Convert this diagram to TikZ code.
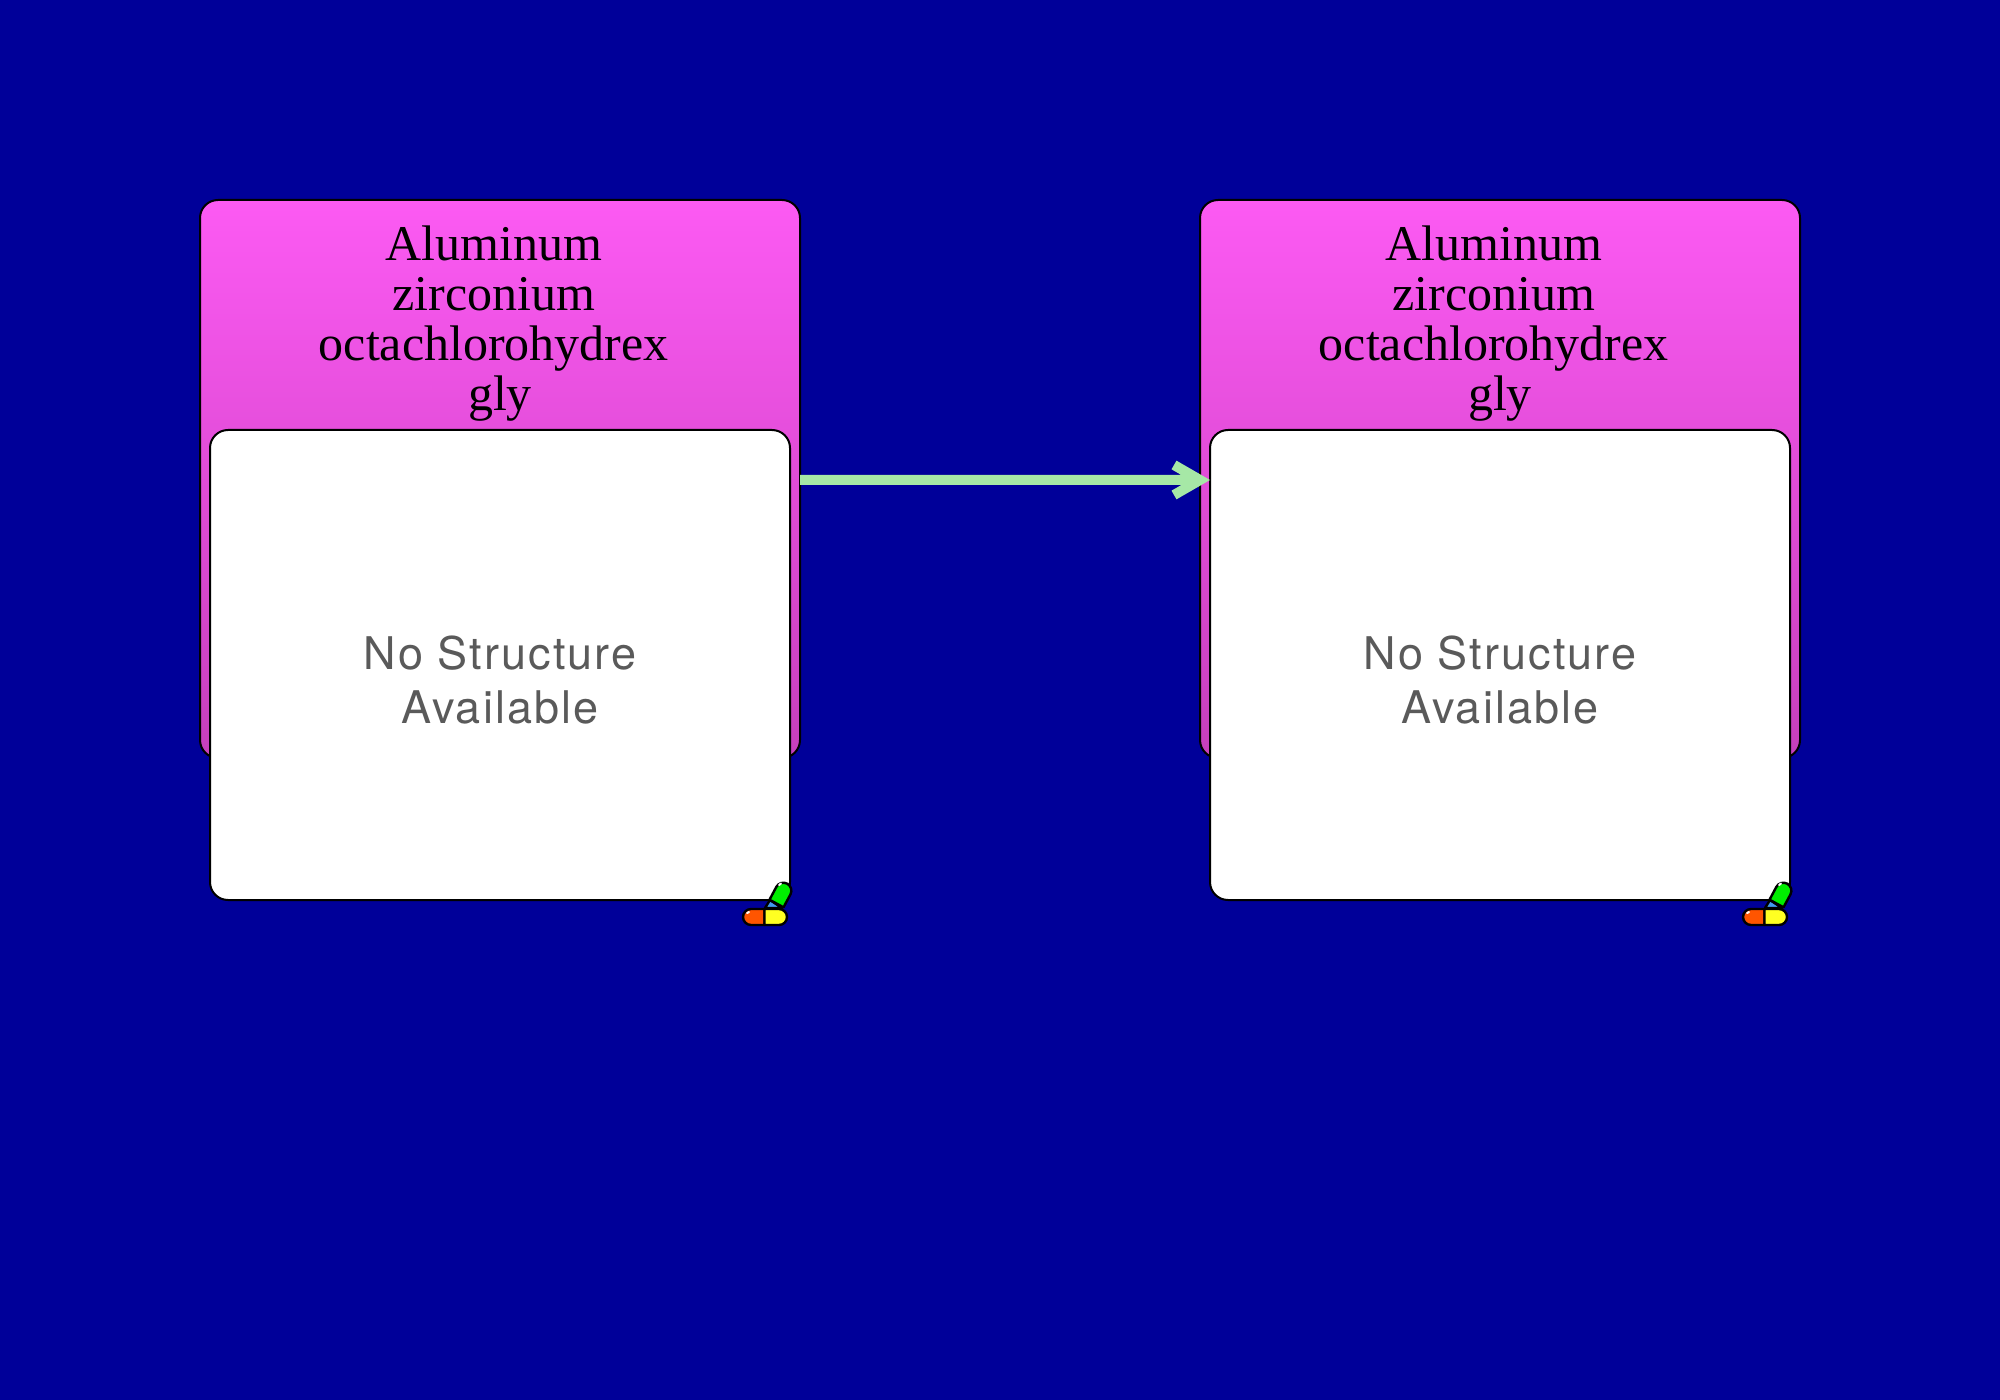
\documentclass[tikz,border=0pt]{standalone}
\usepackage{fontspec}
\setmainfont{Liberation Serif}
\newfontfamily\labelfont[LetterSpace=4.7]{TeX Gyre Heros}
\definecolor{bgblue}{HTML}{000099}
\definecolor{boxtop}{HTML}{FC5AF3}
\definecolor{boxbot}{HTML}{C63FBC}
\definecolor{linkgreen}{HTML}{A6E8A6}
\definecolor{nostruct}{HTML}{5A5A5A}
\definecolor{pillred}{HTML}{FF5500}
\definecolor{pillyellow}{HTML}{FFFF22}
\definecolor{pillgreen}{HTML}{00EE00}
\definecolor{pillblue}{HTML}{4499EE}
\tikzset{
  drugbox/.style={draw=black,line width=1pt,rounded corners=9pt,minimum width=300pt,minimum height=279pt,inner sep=0pt,outer sep=0pt,top color=boxtop,bottom color=boxbot},
  drugname/.style={align=center,inner sep=0pt,font=\fontsize{25}{25}\selectfont},
  structbox/.style={draw=black,line width=1pt,rounded corners=9pt,fill=white,minimum width=290pt,minimum height=235pt,inner sep=0pt,outer sep=0pt},
  structlabel/.style={text=nostruct,align=center,inner sep=0pt,font=\fontsize{22.5}{26.8}\selectfont\labelfont},
  link/.style={linkgreen,line width=5pt,miter limit=10},
  pilloutline/.style={draw=black,line width=1.2pt,line join=round},
  pillshine/.style={white,line width=1pt,line cap=round}
}
\newcommand{\trail}{\kern.25em\relax}
\begin{document}
\begin{tikzpicture}[x=.5pt,y=-.5pt]
\useasboundingbox(0,0)rectangle(2000,1400);
\fill[bgblue](0,0)rectangle(2000,1400);
\foreach \name/\cx in {alumA/500,alumB/1500}{
  \node[drugbox](\name)at(\cx,479){};
  \node[drugname](\name title)at(\cx,324){Aluminum\trail\\zirconium\trail\\octachlorohydrex\trail\\gly};
  \node[structbox](\name struct)at(\cx,665){};
  \node[structlabel](\name label)at(\cx,680){No Structure\\Available};
  % pills at the corner of the structure box
  \begin{scope}[shift={(\name struct.south east)}]
    \filldraw[pilloutline,fill=pillblue](-25,8)--(-20,0)--(-8,8)--cycle;
    \filldraw[pilloutline,fill=pillgreen](-20.5,-.3)--(-13.7,-13.06)arc(-152:28:8)--(-6.5,7.3)--cycle;
    \filldraw[pilloutline,fill=pillred](-25.5,9)--(-39,9)arc(270:90:8)--(-25.5,25)--cycle;
    \filldraw[pilloutline,fill=pillyellow](-25.5,9)--(-11,9)arc(-90:90:8)--(-25.5,25)--cycle;
    \draw[pillshine](-43,13)--(-41,12);
    \draw[pillshine](-11,-15)--(-9,-16.5);
  \end{scope}
}
\coordinate(linktip)at(1200,480);
\draw[link](alumA.east|-linktip)--(linktip)([shift={(-26,-15)}]linktip)--(linktip)--([shift={(-26,15)}]linktip);
\end{tikzpicture}
\end{document}
